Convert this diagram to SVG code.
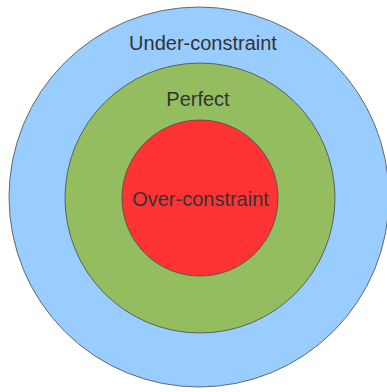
<svg xmlns="http://www.w3.org/2000/svg" width="387" height="392" viewBox="0 0 387 392">
<style>
circle{stroke:#4a4a4a;stroke-width:0.8}
text{font-family:"Liberation Sans",Arial,sans-serif;font-size:20px;fill:#333;text-anchor:middle}
</style>
<rect width="387" height="392" fill="#fff"/>
<g id="under">
<circle cx="199" cy="197" r="190" fill="#99ccff"/>
<text x="203" y="50">Under-constraint</text>
</g>
<g id="perfect">
<circle cx="200" cy="198" r="135" fill="#93bd5f"/>
<text x="198" y="106">Perfect</text>
</g>
<g id="over">
<circle cx="200" cy="198" r="78" fill="#ff3333"/>
<text x="200.5" y="206">Over-constraint</text>
</g>
<g id="connectors"/>
</svg>
